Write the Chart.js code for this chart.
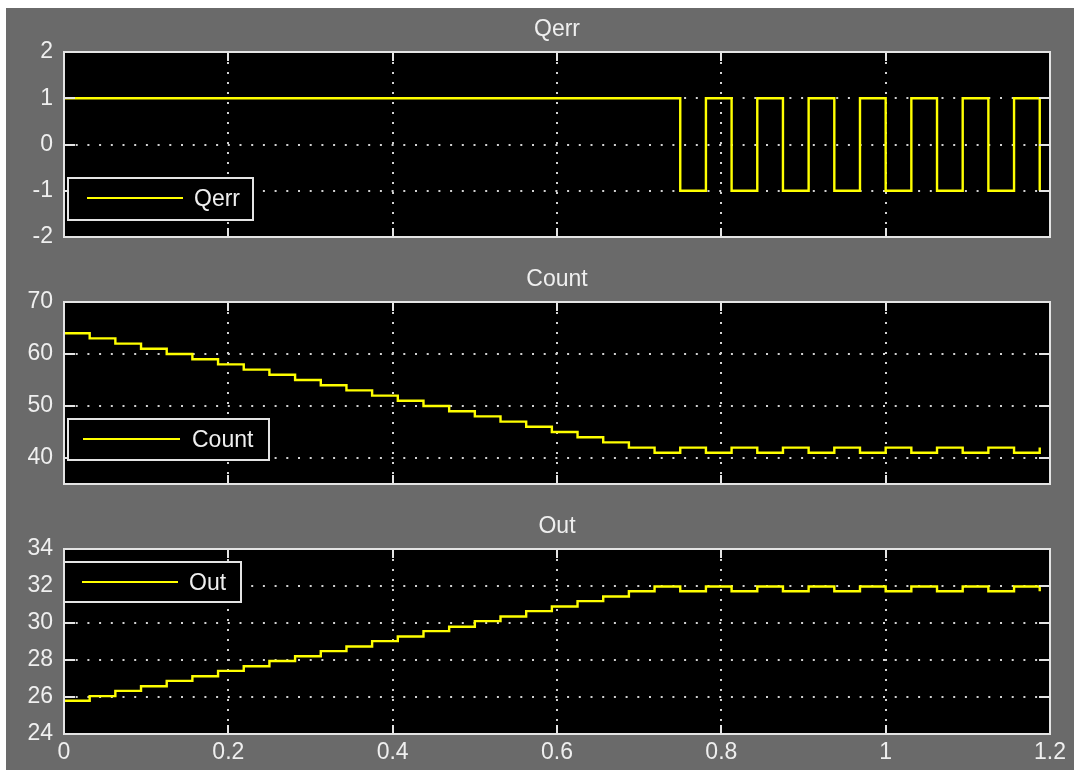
<!DOCTYPE html>
<html><head><meta charset="utf-8">
<script src="https://cdn.jsdelivr.net/npm/chart.js@4.4.0/dist/chart.umd.min.js"></script>
<style>
html,body{margin:0;padding:0;background:#fff;width:1074px;height:770px;overflow:hidden;}
#fig{position:absolute;left:6px;top:8px;width:1068px;height:762px;background:#6a6a6a;}
canvas{position:absolute;left:6px;}
</style></head><body>
<div id="fig"></div>
<canvas id="c1" width="1068" height="240" style="top:8px"></canvas>
<canvas id="c2" width="1068" height="237" style="top:258px"></canvas>
<canvas id="c3" width="1068" height="265" style="top:505px"></canvas>
<script>
// ---- data ----
const time = [0,0.03125,0.0625,0.09375,0.125,0.15625,0.1875,0.21875,0.25,0.28125,0.3125,0.34375,0.375,0.40625,0.4375,0.46875,0.5,0.53125,0.5625,0.59375,0.625,0.65625,0.6875,0.71875,0.75,0.78125,0.8125,0.84375,0.875,0.90625,0.9375,0.96875,1,1.03125,1.0625,1.09375,1.125,1.15625,1.1875];
const qerr = [1,1,1,1,1,1,1,1,1,1,1,1,1,1,1,1,1,1,1,1,1,1,1,1,-1,1,-1,1,-1,1,-1,1,-1,1,-1,1,-1,1,-1];
const count = [64,63,62,61,60,59,58,57,56,55,54,53,52,51,50,49,48,47,46,45,44,43,42,41,42,41,42,41,42,41,42,41,42,41,42,41,42,41,42];
const out = [25.8,26.05,26.33,26.58,26.87,27.12,27.41,27.66,27.95,28.2,28.48,28.73,29.02,29.27,29.56,29.8,30.1,30.35,30.64,30.89,31.18,31.43,31.72,31.97,31.72,31.97,31.72,31.97,31.72,31.97,31.72,31.97,31.72,31.97,31.72,31.97,31.72,31.97,31.72];
const xTicks = [0,0.2,0.4,0.6,0.8,1,1.2];
const xTickLabels = ['0','0.2','0.4','0.6','0.8','1','1.2'];
const qerrTicks = [-2,-1,0,1,2];
const qerrTickLabels = ['-2','-1','0','1','2'];
const countTicks = [40,50,60,70];
const countTickLabels = ['40','50','60','70'];
const outTicks = [24,26,28,30,32,34];
const outTickLabels = ['24','26','28','30','32','34'];

Chart.defaults.font.family = "'Liberation Sans', Arial, sans-serif";
Chart.defaults.font.size = 23;
Chart.defaults.color = '#efefef';

const FG = '#e4e4e4';
const frame = {
  id: 'scopeFrame',
  beforeDraw(chart) {
    const {ctx, chartArea: a} = chart;
    ctx.save();
    ctx.fillStyle = '#000';
    ctx.fillRect(a.left, a.top, a.right - a.left, a.bottom - a.top);
    ctx.restore();
  },
  afterDatasetsDraw(chart, args, opts) {
    const {ctx, chartArea: a, scales: {x, y}} = chart;
    ctx.save();
    ctx.strokeStyle = FG; ctx.lineWidth = 2;
    ctx.beginPath();
    x.ticks.forEach(t => {
      const p = Math.round(x.getPixelForValue(t.value));
      ctx.moveTo(p, a.top); ctx.lineTo(p, a.top + 9);
      ctx.moveTo(p, a.bottom); ctx.lineTo(p, a.bottom - 9);
    });
    y.ticks.forEach(t => {
      const p = Math.round(y.getPixelForValue(t.value));
      ctx.moveTo(a.left, p); ctx.lineTo(a.left + 11, p);
      ctx.moveTo(a.right, p); ctx.lineTo(a.right - 11, p);
    });
    ctx.stroke();
    ctx.strokeRect(a.left, a.top, a.right - a.left, a.bottom - a.top);
    // inset legend
    const L = opts.legend;
    if (L) {
      const ds = chart.data.datasets[0];
      const bx = a.left + L.x, by = a.top + L.y;
      ctx.fillStyle = '#000';
      ctx.fillRect(bx, by, L.w, L.h);
      ctx.strokeStyle = FG; ctx.lineWidth = 2;
      ctx.strokeRect(bx, by, L.w, L.h);
      ctx.strokeStyle = ds.borderColor; ctx.lineWidth = 2;
      ctx.beginPath();
      ctx.moveTo(bx + L.l0, by + L.cy); ctx.lineTo(bx + L.l1, by + L.cy);
      ctx.stroke();
      ctx.fillStyle = '#efefef';
      ctx.font = "23px 'Liberation Sans', Arial, sans-serif";
      ctx.textBaseline = 'middle'; ctx.textAlign = 'left';
      ctx.fillText(ds.label, bx + L.tx, by + L.cy + 2);
    }
    ctx.restore();
  }
};

function makeChart(id, title, vals, yMin, yMax, yTicks, yLabels, showX, legend) {
  const pts = time.map((t, i) => ({x: t, y: vals[i]}));
  return new Chart(document.getElementById(id), {
    type: 'line',
    data: { datasets: [{ label: title, data: pts, borderColor: '#ffff00', borderWidth: 2.4,
      pointRadius: 0, stepped: true, fill: false, tension: 0 }] },
    options: {
      responsive: false, animation: false, devicePixelRatio: 1,
      layout: { padding: { left: 0, right: 24, top: 0, bottom: showX ? 0 : 11 } },
      plugins: {
        legend: { display: false }, tooltip: { enabled: false },
        title: { display: true, text: title, fullSize: false, color: '#efefef',
          font: { size: 23, weight: 'normal' }, padding: { top: 8, bottom: 8.4 } },
        scopeFrame: { legend }
      },
      scales: {
        x: {
          type: 'linear', min: 0, max: 1.2,
          afterBuildTicks: s => { s.ticks = xTicks.map(v => ({value: v})); },
          afterFit: s => { s.height = showX ? 36 : 0; s.paddingLeft = 0; s.paddingRight = 0; },
          ticks: { display: showX, padding: 5, maxRotation: 0, autoSkip: false,
            callback: (v, i) => xTickLabels[i] },
          grid: { color: '#d2d2d2', lineWidth: 2, drawTicks: false },
          border: { display: false, dash: [2, 8] }
        },
        y: {
          min: yMin, max: yMax,
          afterBuildTicks: s => { s.ticks = yTicks.map(v => ({value: v})); },
          afterFit: s => { s.width = 58; s.paddingTop = 0; s.paddingBottom = 0; },
          ticks: { padding: 11, autoSkip: false, callback: (v, i) => yLabels[i] },
          grid: { color: '#d2d2d2', lineWidth: 2, drawTicks: false },
          border: { display: false, dash: [2, 9.7] }
        }
      }
    },
    plugins: [frame]
  });
}

makeChart('c1', 'Qerr', qerr, -2, 2, qerrTicks, qerrTickLabels, false,
  {x: 4, y: 126, w: 185, h: 42, l0: 19, l1: 115, tx: 126, cy: 20});
makeChart('c2', 'Count', count, 35, 70, countTicks, countTickLabels, false,
  {x: 4, y: 117, w: 201, h: 41, l0: 15, l1: 112, tx: 124, cy: 20});
makeChart('c3', 'Out', out, 24, 34, outTicks, outTickLabels, true,
  {x: 0, y: 13, w: 177, h: 40, l0: 18, l1: 114, tx: 125, cy: 20});
</script>
</body></html>
